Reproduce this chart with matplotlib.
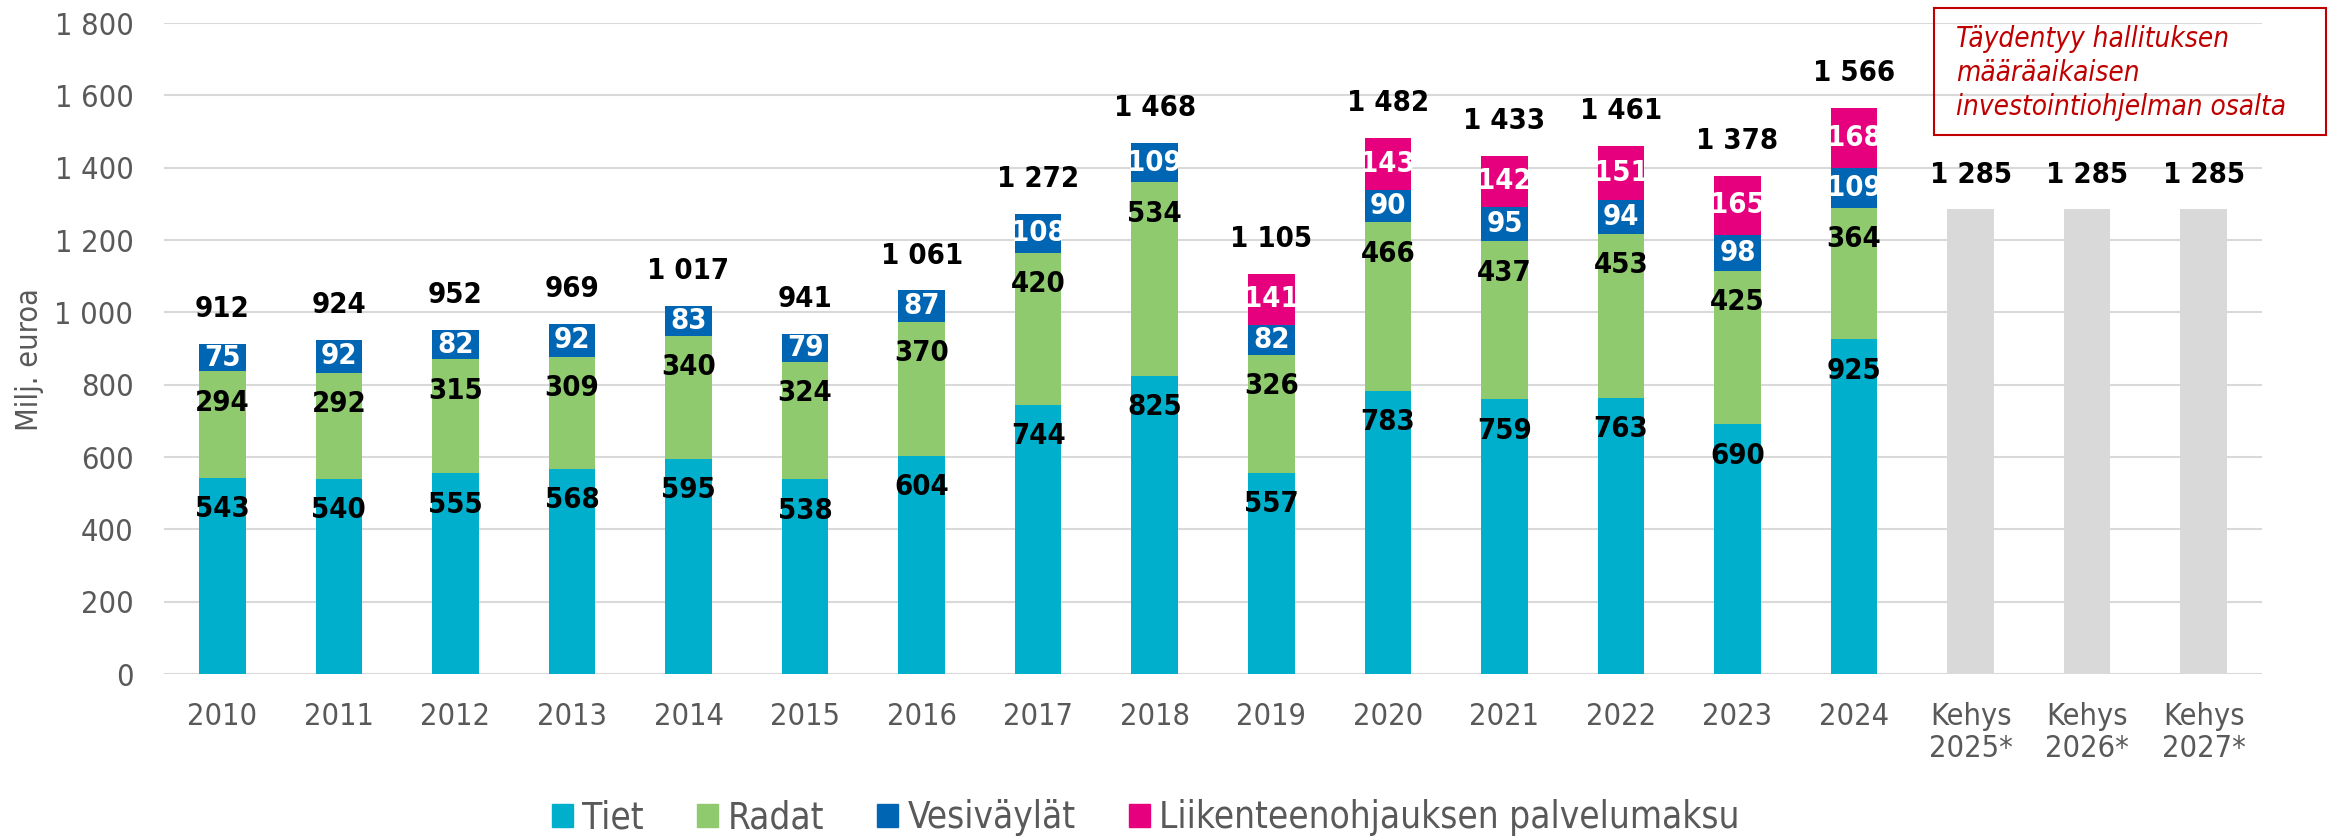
import matplotlib
matplotlib.use('Agg')
import matplotlib.pyplot as plt
from matplotlib.patches import Patch, Rectangle
import numpy as np

plt.rcParams['font.family'] = ['DejaVu Sans']
plt.rcParams['font.stretch'] = 'condensed'

# data (milj. euroa)
years = ['2010', '2011', '2012', '2013', '2014', '2015', '2016', '2017',
         '2018', '2019', '2020', '2021', '2022', '2023', '2024']
tiet = [543, 540, 555, 568, 595, 538, 604, 744, 825, 557, 783, 759, 763, 690, 925]
radat = [294, 292, 315, 309, 340, 324, 370, 420, 534, 326, 466, 437, 453, 425, 364]
vesivaylat = [75, 92, 82, 92, 83, 79, 87, 108, 109, 82, 90, 95, 94, 98, 109]
palvelumaksu = [0, 0, 0, 0, 0, 0, 0, 0, 0, 141, 143, 142, 151, 165, 168]
totals = [912, 924, 952, 969, 1017, 941, 1061, 1272, 1468, 1105, 1482, 1433, 1461, 1378, 1566]
kehys_labels = ['Kehys\n2025*', 'Kehys\n2026*', 'Kehys\n2027*']
kehys = [1285, 1285, 1285]

c_tiet = '#00AFCB'
c_radat = '#8FCA6E'
c_vesi = '#0066B3'
c_liik = '#E6007E'
c_grey = '#D9D9D9'
c_text = '#595959'

def fmt(v):
    return '{:,}'.format(v).replace(',', ' ')

W, H = 2328, 839
fig = plt.figure(figsize=(W / 100, H / 100), dpi=100)
ax = fig.add_axes([164 / W, 1 - 674 / H, (2262 - 164) / W, (674 - 23) / H])

n = len(years)
x = np.arange(n)
xk = np.arange(n, n + len(kehys))
bw = 0.40

t = np.array(tiet)
r = np.array(radat)
v = np.array(vesivaylat)
p = np.array(palvelumaksu)

ax.bar(x, t, bw, color=c_tiet, zorder=2)
ax.bar(x, r, bw, bottom=t, color=c_radat, zorder=2)
ax.bar(x, v, bw, bottom=t + r, color=c_vesi, zorder=2)
ax.bar(x, p, bw, bottom=t + r + v, color=c_liik, zorder=2)
ax.bar(xk, kehys, bw, color=c_grey, zorder=2)

lab = dict(fontsize=21, fontweight='bold', ha='center', va='center',
           textcoords='offset points', zorder=3)
for i in range(n):
    # inside end labels for Tiet and Radat
    ax.annotate(str(t[i]), (x[i], t[i]), xytext=(0, -22.5), color='black', **lab)
    ax.annotate(str(r[i]), (x[i], t[i] + r[i]), xytext=(0, -22.5), color='black', **lab)
    # centered labels for the small segments
    ax.annotate(str(v[i]), (x[i], t[i] + r[i] + v[i] / 2), xytext=(0, 0), color='white', **lab)
    if p[i] > 0:
        ax.annotate(str(p[i]), (x[i], t[i] + r[i] + v[i] + p[i] / 2), xytext=(0, 0),
                    color='white', **lab)
    top = t[i] + r[i] + v[i] + p[i]
    ax.annotate(fmt(totals[i]), (x[i], top), xytext=(0, 25), color='black', **lab)
for i in range(len(kehys)):
    ax.annotate(fmt(kehys[i]), (xk[i], kehys[i]), xytext=(0, 25), color='black', **lab)

ax.set_ylim(0, 1800)
ax.set_xlim(-0.5, n + len(kehys) - 0.5)
ax.set_yticks(np.arange(0, 1801, 200))
ax.set_yticklabels([fmt(y) for y in range(0, 1801, 200)])
ax.set_xticks(np.concatenate([x, xk]))
ax.set_xticklabels(years + kehys_labels, linespacing=1.15)
ax.tick_params(axis='both', length=0, labelsize=22, labelcolor=c_text)
ax.tick_params(axis='x', pad=20)
ax.tick_params(axis='y', pad=22)
ax.grid(axis='y', color=c_grey, linewidth=1.5, zorder=0)
ax.set_axisbelow(True)
for s in ax.spines.values():
    s.set_visible(False)

fig.text(30 / W, 1 - 360 / H, 'Milj. euroa', rotation=90, ha='center', va='center',
         fontsize=22, color=c_text)

handles = [Patch(color=c_tiet), Patch(color=c_radat), Patch(color=c_vesi), Patch(color=c_liik)]
names = ['Tiet', 'Radat', 'Vesiväylät', 'Liikenteenohjauksen palvelumaksu']
fig.legend(handles, names, loc='center', bbox_to_anchor=(1146 / W, 1 - 818 / H), ncol=4,
           frameon=False, fontsize=26.5, labelcolor=c_text, handlelength=0.57,
           handleheight=0.57, handletextpad=0.25, columnspacing=1.45)

# note box
fig.patches.append(Rectangle((1934 / W, 1 - 135 / H), (2326 - 1934) / W, (135 - 8) / H,
                             transform=fig.transFigure, fill=False, edgecolor='#C00000',
                             linewidth=1.5))
fig.text(1956 / W, 1 - 73 / H,
         'Täydentyy hallituksen\nmääräaikaisen\ninvestointiohjelman osalta',
         ha='left', va='center', fontsize=20, style='italic', color='#C00000',
         linespacing=1.28)

fig.savefig('out.png', dpi=100)
